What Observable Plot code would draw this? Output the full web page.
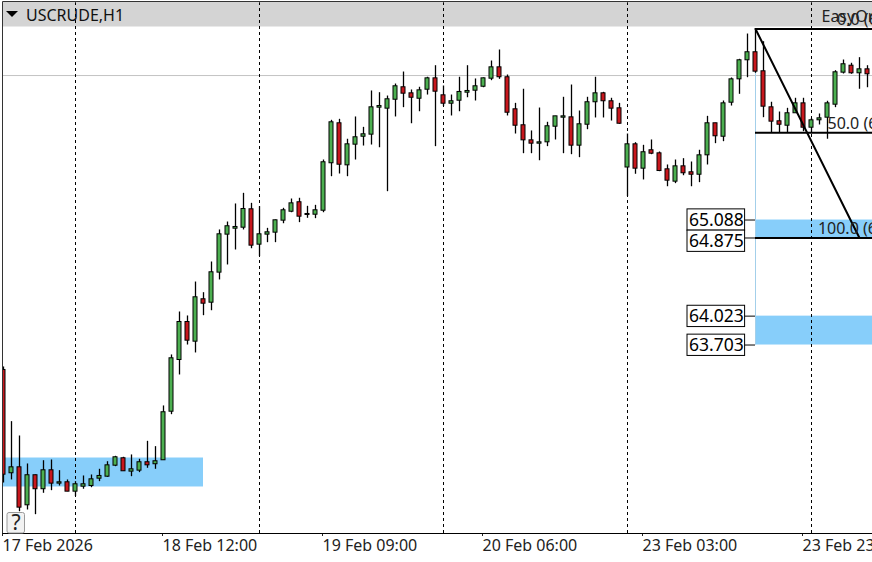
<!DOCTYPE html>
<html>
<head>
<meta charset="utf-8">
<style>html,body{margin:0;padding:0;background:#fff;overflow:hidden}svg{display:block}</style>
<script src="https://cdn.jsdelivr.net/npm/d3@7"></script>
<script src="https://cdn.jsdelivr.net/npm/@observablehq/plot@0.6"></script>
</head>
<body>
<div id="chart"></div>
<script>
const opens = [63.426,62.282,62.348,61.927,62.260,62.105,62.315,62.167,62.182,62.078,62.133,62.141,62.222,62.244,62.366,62.448,62.300,62.311,62.404,62.382,
62.426,62.964,63.537,63.958,63.740,64.210,64.172,64.505,64.926,64.992,65.003,65.207,64.815,64.926,64.948,65.081,65.180,65.285,65.144,65.147,
65.191,65.717,66.160,65.694,65.923,66.011,66.034,66.333,66.322,66.421,66.559,66.492,66.432,66.532,66.658,66.470,66.377,66.410,66.499,66.521,
66.565,66.654,66.780,66.670,66.315,66.138,65.971,65.934,65.949,66.122,66.222,66.226,65.912,66.144,66.393,66.492,66.404,66.326,65.670,65.927,
65.657,65.861,65.827,65.650,65.513,65.683,65.617,65.590,65.805,66.160,66.011,66.388,66.647,66.858,66.947,66.736,66.337,66.182,66.133,66.271,
66.381,66.111,66.193,66.222,66.366,66.721,66.798,66.714,66.758];
const highs = [63.460,62.854,62.695,62.385,62.263,62.421,62.429,62.311,62.208,62.189,62.252,62.263,62.326,62.410,62.470,62.459,62.485,62.437,62.636,62.577,
63.028,63.593,64.069,64.025,64.401,64.283,64.623,64.978,65.066,65.266,65.384,65.273,65.236,64.996,65.088,65.218,65.321,65.329,65.240,65.251,
65.753,66.193,66.204,65.983,66.230,66.115,66.518,66.499,66.462,66.595,66.728,66.529,66.559,66.670,66.798,66.573,66.473,66.670,66.798,66.651,
66.662,66.850,66.972,66.695,66.381,66.537,66.075,66.329,66.171,66.237,66.448,66.584,66.296,66.448,66.670,66.503,66.437,66.381,66.041,65.945,
65.916,65.975,65.842,65.698,65.753,65.768,65.731,65.861,66.237,66.160,66.407,66.662,66.869,67.149,67.205,67.064,66.393,66.285,66.326,66.437,
66.437,66.215,66.263,66.404,66.743,66.861,66.825,66.887,66.798];
const lows = [62.174,62.208,61.856,61.875,61.823,62.060,62.089,62.141,62.078,62.023,62.105,62.122,62.189,62.237,62.355,62.304,62.244,62.289,62.337,62.326,
62.426,62.931,63.371,63.703,63.615,64.028,64.083,64.424,64.590,64.756,64.978,64.770,64.682,64.837,64.837,65.047,65.169,65.059,65.107,65.103,
65.169,65.568,65.598,65.568,65.753,65.908,65.919,65.889,65.402,66.230,66.333,66.155,66.288,66.473,65.901,66.344,66.241,66.288,66.443,66.407,
66.554,66.632,66.647,66.241,66.041,65.823,65.823,65.745,65.901,65.975,65.823,65.812,65.779,66.089,66.219,66.219,66.185,66.149,65.347,65.595,
65.532,65.812,65.624,65.457,65.491,65.579,65.457,65.502,65.698,65.934,65.956,66.351,66.481,66.665,66.714,66.222,66.056,66.056,66.056,66.271,
66.067,66.056,66.141,65.983,66.333,66.706,66.703,66.537,66.554];
const closes = [62.266,62.348,61.901,62.260,62.105,62.315,62.167,62.182,62.078,62.160,62.160,62.215,62.252,62.370,62.459,62.304,62.326,62.404,62.370,62.415,
62.958,63.556,63.958,63.751,64.232,64.161,64.509,64.930,65.019,65.011,65.210,64.804,64.930,64.952,65.085,65.196,65.273,65.125,65.155,65.196,
65.728,66.171,65.701,65.927,66.005,66.038,66.337,66.351,66.426,66.570,66.488,66.443,66.525,66.658,66.510,66.377,66.404,66.507,66.518,66.570,
66.658,66.780,66.670,66.277,66.133,65.971,65.934,65.949,66.127,66.237,66.237,65.912,66.149,66.393,66.492,66.404,66.322,66.155,65.927,65.657,
65.839,65.823,65.631,65.524,65.683,65.606,65.590,65.805,66.160,66.016,66.381,66.647,66.858,66.947,66.732,66.344,66.178,66.144,66.271,66.381,
66.111,66.193,66.215,66.381,66.725,66.814,66.714,66.758,66.703];

const tickBars = [0, 20, 40, 60, 80, 100];
const tickLabels = ["17 Feb 2026", "18 Feb 12:00", "19 Feb 09:00", "20 Feb 06:00", "23 Feb 03:00", "23 Feb 23:00"];
const gridBars = [9, 32, 55, 78, 101];
const bidPrice = 66.689;
const zones = [
  {from: -1, to: 25, top: 62.451, bottom: 62.130},
  {from: 94, to: 112, top: 65.088, bottom: 64.889},
  {from: 94, to: 112, top: 64.023, bottom: 63.703}
];
const boxPrices = [65.088, 64.889, 64.023, 63.703];
const boxLabels = ["65.088", "64.875", "64.023", "63.703"];
const boxCentres = [65.088, 64.853, 64.020, 63.700];
const fibStart = {bar: 94, price: 67.205};
const fibEnd = {bar: 107, price: 64.889};
const fibLevels = [67.205, 66.056, 64.889];
const fibLabels = ["0.0 (67.205)", "50.0 (66.040)", "100.0 (64.875)"];
const fibLabelBars = [104.2, 103, 101.8];

const FONT = "'Noto Sans', Tahoma, sans-serif";
const GREEN = "#4caf50", RED = "#c8171d", BLUE = "#87cefa";
const candles = opens.map((o, i) => ({i, o, h: highs[i], l: lows[i], c: closes[i]}));

const chromeBack = () => {
  const g = d3.create("svg:g");
  g.append("rect").attr("x", 2).attr("y", 2).attr("width", 870).attr("height", 24.5).attr("fill", "#d4d4d4");
  return g.node();
};
const chromeFront = () => {
  const g = d3.create("svg:g");
  g.append("rect").attr("x", 0).attr("y", 0).attr("width", 2).attr("height", 562).attr("fill", "#fff");
  g.append("path").attr("d", "M2.5 533.5V1.5H872").attr("fill", "none").attr("stroke", "#333");
  g.append("path").attr("d", "M2.5 533.5H872").attr("fill", "none").attr("stroke", "#000");
  g.append("path").attr("d", "M6 11L18 11L12 17Z").attr("fill", "#000");
  g.append("rect").attr("x", 7).attr("y", 512.5).attr("width", 17.5).attr("height", 20.5).attr("rx", 2)
    .attr("fill", "#f2f2f2").attr("stroke", "#9a9a9a");
  return g.node();
};

const plot = Plot.plot({
  width: 872, height: 562,
  marginTop: 0, marginRight: 0, marginLeft: 0, marginBottom: 29,
  style: {fontFamily: FONT, background: "#fff", overflow: "hidden"},
  x: {type: "linear", domain: [-0.375, 108.625], axis: null},
  y: {type: "linear", domain: [61.6145, 67.5205], axis: null},
  marks: [
    chromeBack,
    Plot.rect(zones, {x1: "from", x2: "to", y1: "bottom", y2: "top", fill: BLUE}),
    Plot.ruleY([bidPrice], {stroke: "#c4c4c4", strokeWidth: 1}),
    Plot.ruleX(gridBars, {x: d => d, y1: 61.6145, y2: 67.495, stroke: "#000", strokeWidth: 1, strokeDasharray: "3 3"}),
    Plot.ruleX([fibStart.bar], {y1: boxPrices[3], y2: fibStart.price, stroke: "#a3cfea", strokeWidth: 1}),
    Plot.ruleX(candles, {x: "i", y1: "l", y2: "h", stroke: "#000", strokeWidth: 1.3}),
    Plot.rect(candles, {
      x1: d => d.i - 0.25, x2: d => d.i + 0.25,
      y1: d => Math.min(d.o, d.c), y2: d => Math.max(d.o, d.c),
      fill: d => d.c >= d.o ? GREEN : RED, stroke: "#000", strokeWidth: 1
    }),
    Plot.ruleY(fibLevels, {x1: fibStart.bar, x2: 112, y: d => d, stroke: "#000", strokeWidth: 2}),
    Plot.line([fibStart, fibEnd], {x: "bar", y: "price", stroke: "#000", strokeWidth: 2}),
    Plot.text(fibLabels, {x: (d, i) => fibLabelBars[i], y: (d, i) => fibLevels[i], text: d => d, dy: -9,
      textAnchor: "start", fontSize: 16, fill: "#222"}),
    Plot.ruleY(boxPrices, {x1: 92.7, x2: fibStart.bar, y: d => d, stroke: "#000", strokeWidth: 1}),
    Plot.rect(boxCentres, {x1: 85.5, x2: 92.7, y1: d => d - 0.118, y2: d => d + 0.118, fill: "#fff", stroke: "#000", strokeWidth: 1}),
    Plot.text(boxLabels, {x: 89.1, y: (d, i) => boxCentres[i], text: d => d, fontSize: 17.5, fill: "#000"}),
    Plot.axisX({ticks: tickBars, tickFormat: d => tickLabels[tickBars.indexOf(d)], tickSize: 3, tickPadding: 3,
      fontSize: 16, textAnchor: "start", color: "#222", label: null, anchor: "bottom", dx: -1}),
    chromeFront,
    Plot.text(["USCRUDE,H1"], {frameAnchor: "top-left", dx: 25.5, dy: 15, lineAnchor: "middle", textAnchor: "start", fontSize: 16, fill: "#111"}),
    Plot.text(["EasyOrder"], {frameAnchor: "top-left", dx: 821, dy: 16, lineAnchor: "middle", textAnchor: "start", fontSize: 16, fill: "#222"}),
    Plot.text(["?"], {frameAnchor: "top-left", dx: 15.5, dy: 523, lineAnchor: "middle", textAnchor: "middle", fontSize: 21, fill: "#222"})
  ]
});
document.getElementById("chart").append(plot);
</script>
</body>
</html>
